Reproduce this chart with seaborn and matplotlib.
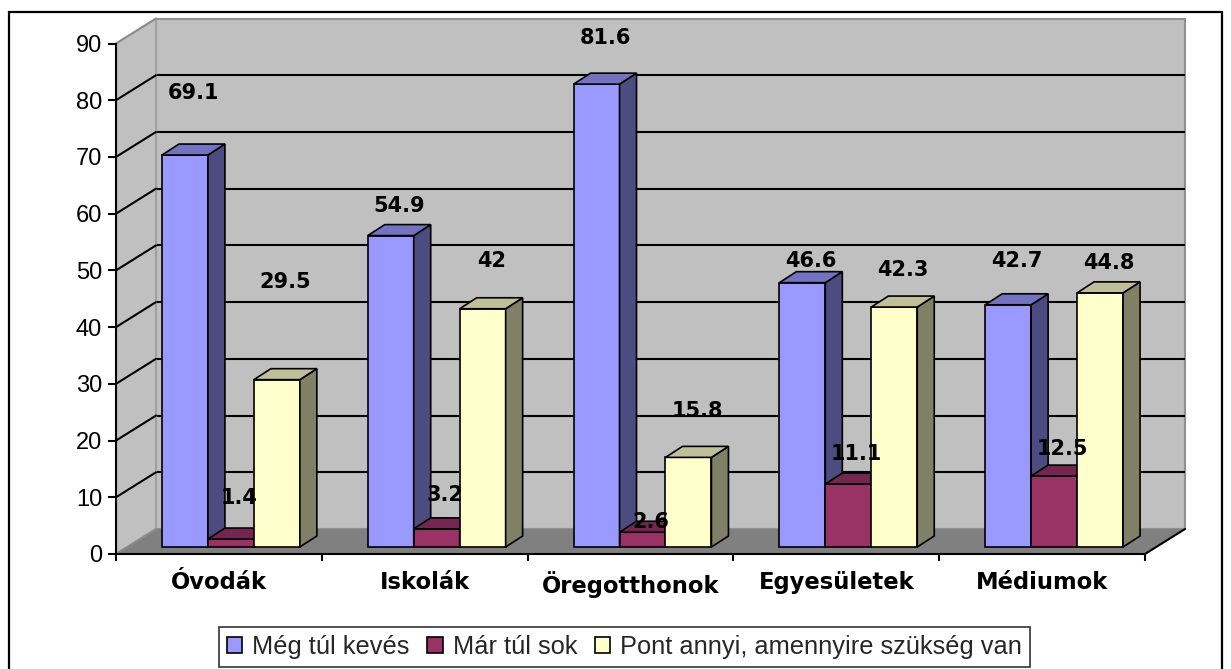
import matplotlib
matplotlib.use("Agg")
import matplotlib.pyplot as plt
import matplotlib.transforms as mtransforms
from matplotlib.patches import Polygon, Rectangle, Patch
import seaborn as sns
import pandas as pd

# ---------------- data ----------------
categories = ["Óvodák", "Iskolák", "Öregotthonok", "Egyesületek", "Médiumok"]
series_names = ["Még túl kevés", "Már túl sok", "Pont annyi, amennyire szükség van"]
meg_tul_keves = [69.1, 54.9, 81.6, 46.6, 42.7]
mar_tul_sok = [1.4, 3.2, 2.6, 11.1, 12.5]
pont_annyi = [29.5, 42.0, 15.8, 42.3, 44.8]
value_labels = [["69.1", "54.9", "81.6", "46.6", "42.7"],
                ["1.4", "3.2", "2.6", "11.1", "12.5"],
                ["29.5", "42", "15.8", "42.3", "44.8"]]
# heights (in value units) at which the data labels sit in the original
label_heights = [[80.1, 60.2, 89.8, 50.5, 50.5],
                 [8.6, 9.2, 4.4, 16.4, 17.3],
                 [46.8, 50.5, 24.0, 48.9, 50.1]]
y_ticks = [0, 10, 20, 30, 40, 50, 60, 70, 80, 90]

# ---------------- style ----------------
front_colors = ["#9999FF", "#993366", "#FFFFCC"]
side_colors = ["#4C4C80", "#4C1933", "#808066"]
top_colors = ["#7373BF", "#732650", "#BFBF99"]
wall_color = "#C0C0C0"
floor_color = "#808080"

sns.set_theme(style="white")
plt.rcParams["font.family"] = ["Liberation Sans", "DejaVu Sans"]
BOLD_FAMILY = ["DejaVu Sans"]

W, H, DPI = 1231, 669, 100
fig = plt.figure(figsize=(W / DPI, H / DPI), dpi=DPI)
fig.patch.set_facecolor("white")

# axes = front plane of the 3-D box
ax_l, ax_r = 116, 1145
ax_t, ax_b = 43.5, 554
ax = fig.add_axes([ax_l / W, (H - ax_b) / H, (ax_r - ax_l) / W, (ax_b - ax_t) / H])
ax.patch.set_visible(False)

df = pd.DataFrame({
    "cat": categories * 3,
    "val": meg_tul_keves + mar_tul_sok + pont_annyi,
    "series": [series_names[0]] * 5 + [series_names[1]] * 5 + [series_names[2]] * 5,
})

sns.barplot(data=df, x="cat", y="val", hue="series", order=categories,
            hue_order=series_names, palette=front_colors, saturation=1,
            width=0.67, gap=0, edgecolor="black", linewidth=1.2,
            legend=False, ax=ax)

ax.set_xlim(-0.5, 4.5)
ax.set_ylim(0, 90)

px_per_cat = (ax_r - ax_l) / 5.0
px_per_unit = (ax_b - ax_t) / 90.0

def dx(px):
    return px / px_per_cat

def dy(px):
    return px / px_per_unit

# ---------- box: walls, floor, gridlines ----------
wx, wy = dx(40), dy(25)
x0, x1 = -0.5, 4.5
back = Polygon([(x0 + wx, wy), (x1 + wx, wy), (x1 + wx, 90 + wy), (x0 + wx, 90 + wy)],
               closed=True, facecolor=wall_color, edgecolor="#909090", lw=1.5,
               zorder=0.5, clip_on=False)
left = Polygon([(x0, 0), (x0 + wx, wy), (x0 + wx, 90 + wy), (x0, 90)],
               closed=True, facecolor=wall_color, edgecolor="none",
               zorder=0.5, clip_on=False)
floor = Polygon([(x0, 0), (x1, 0), (x1 + wx, wy), (x0 + wx, wy)],
                closed=True, facecolor=floor_color, edgecolor="none",
                zorder=1.2, clip_on=False)
ax.add_patch(back)
ax.add_patch(left)
ax.add_patch(floor)
for v in y_ticks:
    col = "black" if 0 < v < 90 else "#8a8a8a"
    if 0 < v < 90:
        ax.plot([x0 + wx, x1 + wx], [v + wy, v + wy], color="black", lw=1.5,
                zorder=1, clip_on=False, solid_capstyle="butt")
    ax.plot([x0, x0 + wx], [v, v + wy], color=col, lw=1.5, zorder=1.3,
            clip_on=False)
ax.plot([x0 + wx, x0 + wx], [wy, 90 + wy], color="#a0a0a0", lw=1.5, zorder=1.1,
        clip_on=False)
ax.plot([x1, x1 + wx], [0, wy], color="black", lw=1.5, zorder=1.4, clip_on=False)

# ---------- 3-D faces of bars ----------
shift = mtransforms.ScaledTranslation(12 / DPI, 7 / DPI, fig.dpi_scale_trans)
bar_trans = ax.transData + shift
ddx, ddy = dx(17), dy(11)

for i, cont in enumerate(ax.containers):
    for j, p in enumerate(cont.patches):
        p.set_transform(bar_trans)
        p.set_zorder(3 + i)
        p.set_clip_on(False)
        bx, bw, bh = p.get_x(), p.get_width(), p.get_height()
        side = Polygon([(bx + bw, 0), (bx + bw + ddx, ddy), (bx + bw + ddx, bh + ddy),
                        (bx + bw, bh)], closed=True, facecolor=side_colors[i],
                       edgecolor="black", lw=1.2, zorder=3 + i, clip_on=False,
                       transform=bar_trans)
        top = Polygon([(bx, bh), (bx + bw, bh), (bx + bw + ddx, bh + ddy),
                       (bx + ddx, bh + ddy)], closed=True, facecolor=top_colors[i],
                      edgecolor="black", lw=1.2, zorder=3 + i, clip_on=False,
                      transform=bar_trans)
        ax.add_patch(side)
        ax.add_patch(top)
        ax.text(bx + bw / 2 + ddx / 2, label_heights[i][j], value_labels[i][j],
                transform=bar_trans, ha="center", va="center", fontsize=15,
                fontweight="bold", family=BOLD_FAMILY, color="black", zorder=10)

# ---------- axes, ticks ----------
for s in ["top", "right"]:
    ax.spines[s].set_visible(False)
for s in ["left", "bottom"]:
    ax.spines[s].set_color("black")
    ax.spines[s].set_linewidth(1.5)
    ax.spines[s].set_zorder(2)

ax.set_yticks(y_ticks)
ax.set_yticklabels([str(v) for v in y_ticks])
ax.tick_params(axis="y", direction="out", length=6, width=1.5, color="black",
               labelsize=17, pad=4, left=True, labelcolor="black")
ax.set_xticks(range(len(categories)))
ax.set_xticklabels(categories, fontweight="bold", family=BOLD_FAMILY)
ax.set_xticks([k - 0.5 for k in range(len(categories) + 1)], minor=True)
ax.tick_params(axis="x", which="major", length=0, labelsize=16.3, pad=12,
               labelcolor="black")
ax.tick_params(axis="x", which="minor", direction="out", length=5, width=1.5,
               color="black", bottom=True)
ax.set_xlabel("")
ax.set_ylabel("")
ax.grid(False)

# ---------- legend ----------
handles = [Patch(facecolor=c, edgecolor="black", lw=1.2) for c in front_colors]
leg = fig.legend(handles, series_names, loc="center", ncol=3,
                 bbox_to_anchor=(624.5 / W, 1 - 647 / H), fontsize=18.3,
                 frameon=True, fancybox=False, edgecolor="black",
                 handlelength=0.6, handleheight=0.6, handletextpad=0.4,
                 columnspacing=0.7, borderpad=0.3, borderaxespad=0)
leg.get_frame().set_linewidth(1.2)

# ---------- outer border ----------
fig.add_artist(Rectangle((9 / W, -0.01), (1222 - 9) / W, (H - 12) / H + 0.01,
                         transform=fig.transFigure, fill=False,
                         edgecolor="black", lw=1.6))

fig.savefig("out.png", dpi=DPI)
